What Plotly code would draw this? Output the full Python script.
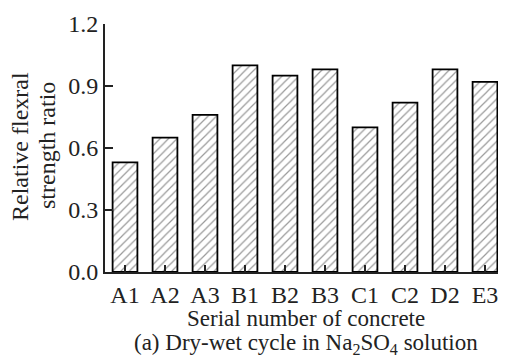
import plotly.graph_objects as go

categories = ["A1", "A2", "A3", "B1", "B2", "B3", "C1", "C2", "D2", "E3"]
ratios = [0.53, 0.65, 0.76, 1.00, 0.95, 0.98, 0.70, 0.82, 0.98, 0.92]
y_ticks = [0.0, 0.3, 0.6, 0.9, 1.2]
y_tick_labels = ["0.0", "0.3", "0.6", "0.9", "1.2"]

FONT = "Liberation Serif"
FS = 24
TXT = "#222"
# the page body has an 8px margin, so the figure is drawn 8px smaller
OFF = 8
W, H = 506 - OFF, 358 - OFF
L, R, T, B = 105 - OFF, 1, 24 - OFF, 86

fig = go.Figure(go.Bar(
    x=categories, y=ratios,
    marker=dict(color="white",
                line=dict(color="black", width=1.8),
                pattern=dict(shape="/", fgcolor="#333", bgcolor="white",
                             size=6, solidity=0.2)),
))

fig.update_layout(
    width=W, height=H,
    margin=dict(l=L, r=R, t=T, b=B),
    plot_bgcolor="white", paper_bgcolor="white",
    bargap=0.38, showlegend=False,
    font=dict(family=FONT, size=FS, color=TXT),
    xaxis=dict(type="category", range=[-0.5, 9.5], showline=True,
               linecolor="#222", linewidth=2, ticks="inside", ticklen=7,
               tickwidth=1.5, tickcolor="#222", mirror=False, layer="above traces",
               tickfont=dict(family=FONT, size=FS, color=TXT), showgrid=False),
    yaxis=dict(range=[0, 1.2], tickvals=y_ticks, ticktext=y_tick_labels,
               showline=True, linecolor="#222", linewidth=2, ticks="inside",
               ticklen=8, tickwidth=1.5, tickcolor="#222", showgrid=False,
               layer="above traces",
               zeroline=False, tickfont=dict(family=FONT, size=FS, color=TXT)),
)

# annotations placed by window pixel position (cx, cy)
texts = [
    ("Relative flexral", 20, 147, -90, FS),
    ("strength ratio", 47, 146, -90, FS),
    ("Serial number of concrete", 306, 318, 0, 23),
    ("(a) Dry-wet cycle in Na<sub>2</sub>SO<sub>4</sub> solution", 306, 344, 0, 23),
]
pw, ph = W - L - R, H - T - B
for txt, cx, cy, ang, fs in texts:
    fx, fy = cx - OFF, cy - OFF
    fig.add_annotation(text=txt, textangle=ang, showarrow=False,
                       x=(fx - L) / pw, y=(H - fy - B) / ph,
                       xref="paper", yref="paper", xanchor="center", yanchor="middle",
                       font=dict(family=FONT, size=fs, color=TXT))

fig.write_html("out.html")
